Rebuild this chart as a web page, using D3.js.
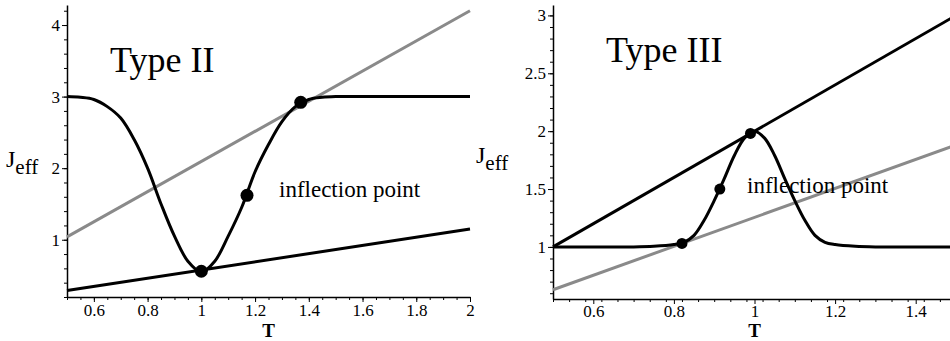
<!DOCTYPE html>
<html>
<head>
<meta charset="utf-8">
<script src="https://cdn.jsdelivr.net/npm/d3@7"></script>
<style>
  body { margin: 0; background: #fff; }
  svg { display: block; }
  text { font-family: "Liberation Serif", "Times New Roman", serif; fill: #000; }
  .axis path, .axis line { stroke: #000; }
</style>
</head>
<body>
<svg id="chart" width="950" height="341"></svg>
<script>
// ---- Type II panel data
const tII = [0.5, 0.55, 0.6, 0.65, 0.7, 0.75, 0.8, 0.85, 0.9, 0.95, 1.0, 1.05, 1.1, 1.15, 1.2, 1.25, 1.3, 1.35, 1.4, 1.45, 1.5, 1.6, 2.0];
const jII = [3.0, 2.99, 2.96, 2.86, 2.7, 2.4, 2.0, 1.5, 1.05, 0.7, 0.55, 0.7, 1.05, 1.45, 1.95, 2.33, 2.65, 2.86, 2.96, 2.99, 3.0, 3.0, 3.0];
const dotsII_t = [1.0, 1.17, 1.37];
const dotsII_j = [0.56, 1.62, 2.92];
const lowLineII_t = [0.5, 2.0];
const lowLineII_j = [0.29, 1.15];
const grayLineII_t = [0.5, 2.0];
const grayLineII_j = [1.04, 4.2];
const xTicksII = [0.6, 0.8, 1, 1.2, 1.4, 1.6, 1.8, 2];
const yTicksII = [1, 2, 3, 4];

// ---- Type III panel data
const tIII = [0.5, 0.7, 0.75, 0.8, 0.825, 0.85, 0.875, 0.9, 0.925, 0.95, 0.975, 1.0, 1.025, 1.05, 1.075, 1.1, 1.125, 1.15, 1.175, 1.2, 1.25, 1.3, 1.5];
const jIII = [1.0, 1.0, 1.005, 1.02, 1.04, 1.1, 1.23, 1.4, 1.59, 1.79, 1.94, 2.0, 1.94, 1.79, 1.59, 1.4, 1.23, 1.1, 1.04, 1.02, 1.005, 1.0, 1.0];
const dotsIII_t = [0.82, 0.914, 0.99];
const dotsIII_j = [1.03, 1.5, 1.98];
const topLineIII_t = [0.5, 1.5];
const topLineIII_j = [1.0, 3.0];
const grayLineIII_t = [0.5, 1.5];
const grayLineIII_j = [0.63, 1.88];
const xTicksIII = [0.6, 0.8, 1, 1.2, 1.4];
const yTicksIII = [1, 1.5, 2, 2.5, 3];

const zip = (a, b) => a.map((v, i) => [v, b[i]]);
const fmt = d3.format('~g');
const serif = '"Liberation Serif", "Times New Roman", serif';
const svg = d3.select('#chart');

function drawPanel(opt) {
  const x = d3.scaleLinear().domain(opt.xDomain).range(opt.xRange);
  const y = d3.scaleLinear().domain(opt.yDomain).range(opt.yRange);
  const g = svg.append('g');

  // minor ticks
  g.append('g').attr('class', 'axis')
    .attr('transform', `translate(0,${opt.yRange[0]})`)
    .call(d3.axisBottom(x).tickValues(d3.range(opt.xDomain[0], opt.xDomain[1] + 1e-9, opt.xMinor))
      .tickSize(3).tickSizeOuter(0).tickFormat(''))
    .call(s => s.select('.domain').remove());
  g.append('g').attr('class', 'axis')
    .attr('transform', `translate(${opt.xRange[0]},0)`)
    .call(d3.axisLeft(y).tickValues(d3.range(Math.ceil(opt.yDomain[0] / opt.yMinor) * opt.yMinor, opt.yDomain[1], opt.yMinor))
      .tickSize(3).tickSizeOuter(0).tickFormat(''))
    .call(s => s.select('.domain').remove());

  // major axes
  const xa = g.append('g').attr('class', 'axis')
    .attr('transform', `translate(0,${opt.yRange[0]})`)
    .call(d3.axisBottom(x).tickValues(opt.xTicks).tickSize(5).tickSizeOuter(0).tickPadding(opt.xPad).tickFormat(fmt));
  const ya = g.append('g').attr('class', 'axis')
    .attr('transform', `translate(${opt.xRange[0]},0)`)
    .call(d3.axisLeft(y).tickValues(opt.yTicks).tickSize(5).tickSizeOuter(0).tickPadding(2).tickFormat(fmt));
  [xa, ya].forEach(a => {
    a.attr('font-family', serif).attr('font-size', 17);
    a.select('.domain').attr('stroke-width', 1.5);
    a.selectAll('text').attr('fill', '#000');
  });

  const line = d3.line().x(d => x(d[0])).y(d => y(d[1]));

  g.append('path')
    .attr('d', line(zip(opt.grayT, opt.grayJ)))
    .attr('fill', 'none').attr('stroke', '#8a8a8a').attr('stroke-width', 3);
  g.append('path')
    .attr('d', line(zip(opt.blackT, opt.blackJ)))
    .attr('fill', 'none').attr('stroke', '#000').attr('stroke-width', 3);
  g.append('path')
    .attr('d', line.curve(d3.curveCatmullRom.alpha(0.5))(zip(opt.curveT, opt.curveJ)))
    .attr('fill', 'none').attr('stroke', '#000').attr('stroke-width', 3);

  g.selectAll('.dot')
    .data(zip(opt.dotT, opt.dotJ))
    .enter()
    .append('circle')
    .attr('class', 'dot')
    .attr('cx', d => x(d[0]))
    .attr('cy', d => y(d[1]))
    .attr('r', opt.dotR)
    .attr('fill', '#000');

  // labels
  g.append('text').text(opt.title)
    .attr('x', opt.titleX).attr('y', opt.titleY)
    .style('font-size', '36px');
  g.append('text').text('inflection point')
    .attr('x', opt.inflX).attr('y', opt.inflY)
    .style('font-size', '23px');
  g.append('text').text('T')
    .attr('x', (opt.xRange[0] + opt.xRange[1]) / 2).attr('y', 337)
    .attr('text-anchor', 'middle')
    .style('font-size', '19px').style('font-weight', 'bold');
  const jl = g.append('text').attr('x', opt.jX).attr('y', opt.jY);
  jl.append('tspan').text('J').style('font-size', '24px');
  jl.append('tspan').text('eff').attr('dy', 7).style('font-size', '21px');
}

drawPanel({
  xDomain: [0.5, 2], xRange: [67, 470],
  yDomain: [0.2, 4.28], yRange: [297, 5],
  xTicks: xTicksII, yTicks: yTicksII, xMinor: 0.05, yMinor: 0.2, xPad: 2,
  curveT: tII, curveJ: jII,
  dotT: dotsII_t, dotJ: dotsII_j, dotR: 6.5,
  blackT: lowLineII_t, blackJ: lowLineII_j,
  grayT: grayLineII_t, grayJ: grayLineII_j,
  title: 'Type II', titleX: 110, titleY: 72,
  inflX: 279, inflY: 197,
  jX: 6, jY: 167
});

drawPanel({
  xDomain: [0.5, 1.5], xRange: [553, 956],
  yDomain: [0.55, 3.09], yRange: [299, 5],
  xTicks: xTicksIII, yTicks: yTicksIII, xMinor: 0.04, yMinor: 0.1, xPad: 1,
  curveT: tIII, curveJ: jIII,
  dotT: dotsIII_t, dotJ: dotsIII_j, dotR: 5.5,
  blackT: topLineIII_t, blackJ: topLineIII_j,
  grayT: grayLineIII_t, grayJ: grayLineIII_j,
  title: 'Type III', titleX: 606, titleY: 62,
  inflX: 747, inflY: 193,
  jX: 476, jY: 163
});
</script>
</body>
</html>
